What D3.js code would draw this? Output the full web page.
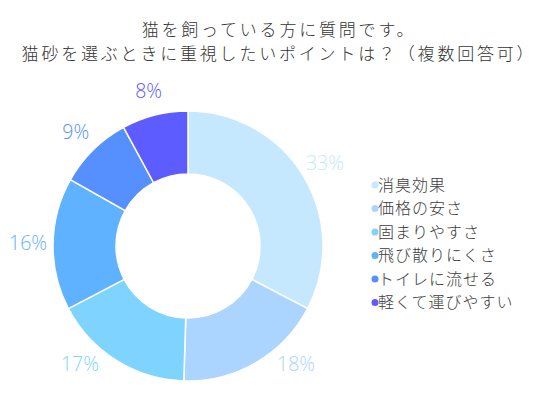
<!DOCTYPE html>
<meta charset="utf-8">
<title>猫砂を選ぶときに重視したいポイント</title>
<script src="https://d3js.org/d3.v7.min.js"></script>
<style>
body {
  margin: 0;
  background: #fff;
}
svg {
  display: block;
  font-family: "Noto Sans CJK JP", "Noto Sans", sans-serif;
}
.title {
  fill: #333;
  font-size: 17px;
  font-weight: 300;
  letter-spacing: 2.8px;
}
.legend text {
  fill: #3c3c3c;
  font-size: 16px;
  font-weight: 300;
  letter-spacing: 1px;
}
.pct {
  font-family: "Open Sans", "Noto Sans", sans-serif;
  font-size: 19.5px;
  font-weight: 300;
}
</style>
<svg width="540" height="400"></svg>
<script>

var titleLines = ["猫を飼っている方に質問です。", "猫砂を選ぶときに重視したいポイントは？（複数回答可）"];
var categories = ["消臭効果", "価格の安さ", "固まりやすさ", "飛び散りにくさ", "トイレに流せる", "軽くて運びやすい"];
var values = [33, 18, 17, 16, 9, 8];
var colors = ["#c5e8fe", "#abd4fe", "#7fd4ff", "#5fb2ff", "#5690ff", "#5c5cff"];

var svg = d3.select("svg"),
    cx = 188,
    cy = 246,
    outer = 135,
    inner = 72,
    labelR = 160,
    labelMaxY = 118;

svg.selectAll(".title")
  .data(titleLines)
  .enter().append("text")
    .attr("class", "title")
    .attr("x", 279)
    .attr("y", function(d, i) { return 36 + i * 24; })
    .attr("text-anchor", "middle")
    .text(function(d) { return d; });

var data = categories.map(function(c, i) { return {name: c, value: values[i], color: colors[i]}; });

var pie = d3.pie().sort(null).value(function(d) { return d.value; });
var arc = d3.arc().innerRadius(inner).outerRadius(outer);
var labelArc = d3.arc().innerRadius(labelR).outerRadius(labelR);

var g = svg.append("g")
    .attr("transform", "translate(" + cx + "," + cy + ")");

var arcs = pie(data);

g.selectAll("path")
  .data(arcs)
  .enter().append("path")
    .attr("d", arc)
    .attr("fill", function(d) { return d.data.color; })
    .attr("stroke", "#fff")
    .attr("stroke-width", 1.5);

// outside labels, kept off the bottom edge and slid back onto the label circle
function labelPos(d) {
  var p = labelArc.centroid(d);
  if (p[1] > labelMaxY) {
    p[1] = labelMaxY;
    p[0] = (p[0] < 0 ? -1 : 1) * Math.sqrt(labelR * labelR - labelMaxY * labelMaxY);
  }
  return p;
}

g.selectAll(".pct")
  .data(arcs)
  .enter().append("text")
    .attr("class", "pct")
    .attr("transform", function(d) { return "translate(" + labelPos(d) + ")"; })
    .attr("text-anchor", "middle")
    .attr("dy", "0.35em")
    .attr("fill", function(d) { return d.data.color; })
    .text(function(d) { return d.data.value + "%"; });

// legend
var legend = svg.append("g")
    .attr("class", "legend")
    .attr("transform", "translate(375,185)");

var item = legend.selectAll("g")
  .data(data)
  .enter().append("g")
    .attr("transform", function(d, i) { return "translate(0," + i * 23.5 + ")"; });

item.append("circle")
    .attr("r", 3.5)
    .attr("fill", function(d) { return d.color; });

item.append("text")
    .attr("x", 3)
    .attr("dy", "0.35em")
    .text(function(d) { return d.name; });

</script>
</html>
